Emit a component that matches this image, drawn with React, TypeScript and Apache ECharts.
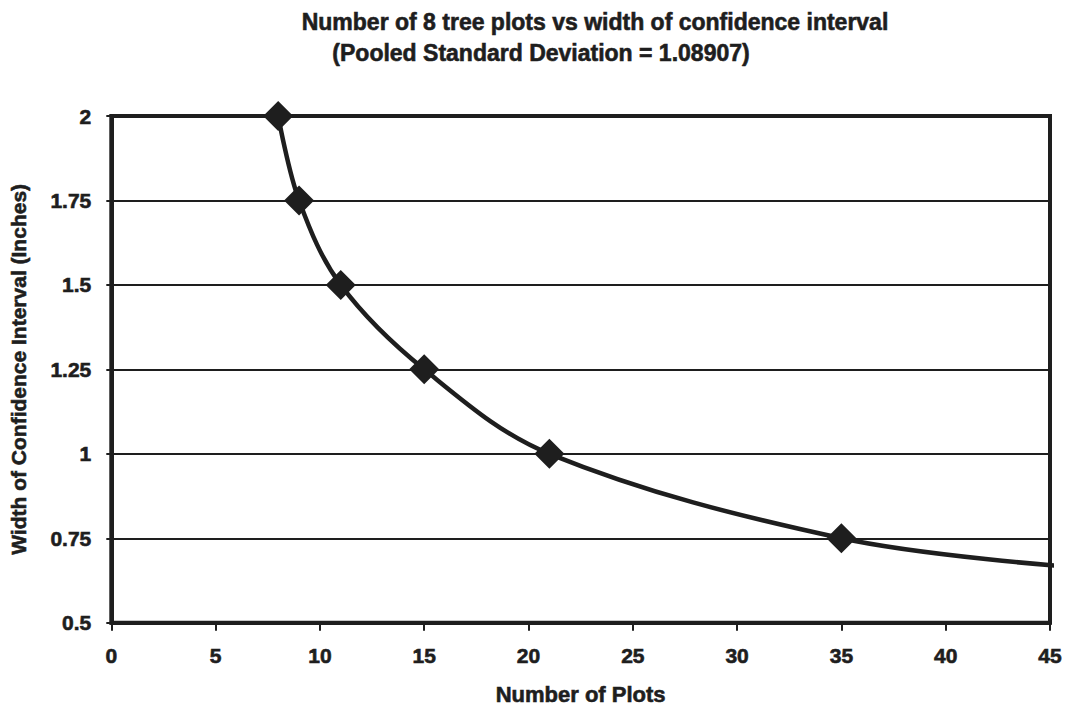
import React, { useEffect, useRef } from "react";
import * as echarts from "echarts";

const titleLine1 = "Number of 8 tree plots vs width of confidence interval";
const titleLine2 = "(Pooled Standard Deviation = 1.08907)";
const xName = "Number of Plots";
const yName = "Width of Confidence Interval (Inches)";

const plots = [8, 9, 11, 15, 21, 35];
const widths = [2, 1.75, 1.5, 1.25, 1, 0.75];
// curve continues past the last marker
const tailPlots = [46];
const tailWidths = [0.665];

const FONT = "'Liberation Sans', Arial, sans-serif";
const INK = "#1e1e1e";

const heavy = (size: number) => ({
  fontFamily: FONT,
  fontSize: size,
  fontWeight: "bold" as const,
  color: INK,
  textBorderColor: INK,
  textBorderWidth: 0.6,
});

export default function App() {
  const ref = useRef<HTMLDivElement>(null);
  useEffect(() => {
    if (!ref.current) return;
    const chart = echarts.init(ref.current, null, { renderer: "svg" });
    const data: any[] = plots.map((p, i) => ({ value: [p, widths[i]] }));
    tailPlots.forEach((p, i) =>
      data.push({ value: [p, tailWidths[i]], symbol: "none" })
    );
    chart.setOption({
      animation: false,
      backgroundColor: "#ffffff",
      textStyle: { fontFamily: FONT },
      title: [
        {
          text: titleLine1,
          left: 590,
          top: 5,
          textAlign: "center",
          textStyle: heavy(23),
        },
        {
          text: titleLine2,
          left: 536,
          top: 36,
          textAlign: "center",
          textStyle: heavy(23),
        },
      ],
      grid: {
        left: 110,
        right: 18,
        top: 116,
        bottom: 87,
        show: true,
        borderColor: INK,
        borderWidth: 4,
        backgroundColor: "transparent",
      },
      xAxis: {
        type: "value",
        min: 0,
        max: 45,
        interval: 5,
        name: xName,
        nameLocation: "middle",
        nameGap: 61,
        nameTextStyle: heavy(22),
        axisLine: { show: true, lineStyle: { color: INK, width: 4 } },
        axisTick: { show: true, inside: false, length: 8, lineStyle: { color: INK, width: 2 } },
        axisLabel: { margin: 22, ...heavy(21) },
        splitLine: { show: false },
      },
      yAxis: {
        type: "value",
        min: 0.5,
        max: 2,
        interval: 0.25,
        name: yName,
        nameLocation: "middle",
        nameGap: 82,
        nameTextStyle: heavy(21),
        axisLine: { show: true, lineStyle: { color: INK, width: 4 } },
        axisTick: { show: true, inside: false, length: 5, lineStyle: { color: INK, width: 2 } },
        axisLabel: {
          margin: 20,
          ...heavy(21),
          formatter: (v: number) => String(v),
        },
        splitLine: { show: true, lineStyle: { color: INK, width: 2 } },
      },
      series: [
        {
          type: "line",
          data,
          smooth: 0.35,
          clip: false,
          symbol: "diamond",
          symbolSize: 30,
          itemStyle: { color: INK },
          lineStyle: { color: INK, width: 4.5 },
          z: 5,
        },
      ],
    });
    return () => chart.dispose();
  }, []);
  return (
    <div
      ref={ref}
      style={{ position: "fixed", left: 0, top: 0, width: 1068, height: 711 }}
    />
  );
}
